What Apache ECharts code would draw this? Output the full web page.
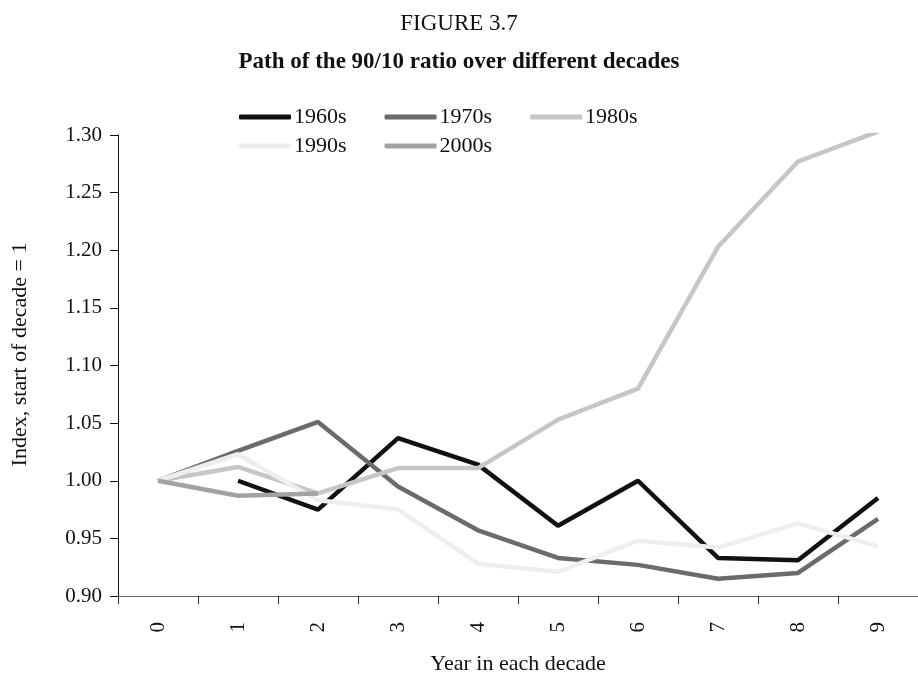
<!DOCTYPE html>
<html>
<head>
<meta charset="utf-8">
<script src="https://cdn.jsdelivr.net/npm/echarts@6/dist/echarts.min.js"></script>
<style>
  html, body { margin: 0; padding: 0; background: #fff; }
  #chart { width: 918px; height: 680px; }
</style>
</head>
<body>
<div id="chart"></div>
<script>
"use strict";

// years within each decade
var years = ["0", "1", "2", "3", "4", "5", "6", "7", "8", "9"];

// index values, start of decade = 1
var s1960 = [null, 1.000, 0.975, 1.037, 1.014, 0.961, 1.000, 0.933, 0.931, 0.985];
var s1970 = [1.000, 1.026, 1.051, 0.995, 0.957, 0.933, 0.927, 0.915, 0.920, 0.967];
var s1980 = [1.000, 1.012, 0.989, 1.011, 1.011, 1.053, 1.080, 1.203, 1.277, 1.303];
var s1990 = [1.000, 1.023, 0.983, 0.975, 0.928, 0.921, 0.948, 0.942, 0.963, 0.943];
var s2000 = [1.000, 0.987, 0.989, null, null, null, null, null, null, null];

var names = ["1960s", "1970s", "1980s", "1990s", "2000s"];
var colors = ["#111111", "#6b6b6b", "#c6c6c6", "#eeeeee", "#a2a2a2"];
var allData = [s1960, s1970, s1980, s1990, s2000];

var font = "Liberation Serif";

var chart = echarts.init(document.getElementById("chart"));

var series = [];
allData.forEach(function (d, i) {
  series.push({
    name: names[i],
    type: "line",
    data: d,
    symbol: "none",
    clip: true,
    connectNulls: false,
    lineStyle: { color: colors[i], width: 4.5 },
    itemStyle: { color: colors[i] },
  });
});

// two legend rows like the original
function legendRow(items, top) {
  return {
    left: 239,
    top: top,
    orient: "horizontal",
    icon: "roundRect",
    itemWidth: 52,
    itemHeight: 5,
    itemGap: 38,
    padding: 0,
    data: items,
    textStyle: { fontFamily: font, fontSize: 22, lineHeight: 24, color: "#111", padding: [0, 0, 0, -2] },
  };
}

var option = {
  backgroundColor: "#fff",
  animation: false,
  title: [
    {
      text: "FIGURE 3.7",
      left: "center",
      top: 7,
      textStyle: { fontFamily: font, fontSize: 23, fontWeight: "normal", color: "#111" },
    },
    {
      text: "Path of the 90/10 ratio over different decades",
      left: "center",
      top: 46,
      textStyle: { fontFamily: font, fontSize: 23, fontWeight: "bold", color: "#111" },
    },
  ],
  legend: [
    legendRow(["1960s", "1970s", "1980s"], 105),
    legendRow(["1990s", "2000s"], 134),
  ],
  grid: {
    left: 118,
    right: -9,
    top: 135,
    bottom: 79,
    containLabel: false,
  },
  xAxis: {
    type: "category",
    data: years,
    boundaryGap: true,
    name: "Year in each decade",
    nameLocation: "middle",
    nameGap: 57,
    nameTextStyle: { fontFamily: font, fontSize: 22, color: "#111" },
    axisLine: { lineStyle: { color: "#666", width: 1 } },
    axisTick: { show: true, length: 8, lineStyle: { color: "#333" } },
    axisLabel: { rotate: 90, fontFamily: font, fontSize: 21, color: "#111", margin: 26 },
    splitLine: { show: false },
  },
  yAxis: {
    type: "value",
    min: 0.9,
    max: 1.3,
    interval: 0.05,
    name: "Index, start of decade = 1",
    nameLocation: "middle",
    nameGap: 87,
    nameTextStyle: { fontFamily: font, fontSize: 22, color: "#111", padding: [0, 0, 0, 22] },
    axisLine: { show: true, lineStyle: { color: "#111", width: 1 } },
    axisTick: { show: true, length: 8, lineStyle: { color: "#111" } },
    axisLabel: {
      fontFamily: font,
      fontSize: 21,
      color: "#111",
      margin: 16,
      formatter: function (v) { return v.toFixed(2); },
    },
    splitLine: { show: false },
  },
  series: series,
};

chart.setOption(option);
</script>
</body>
</html>
